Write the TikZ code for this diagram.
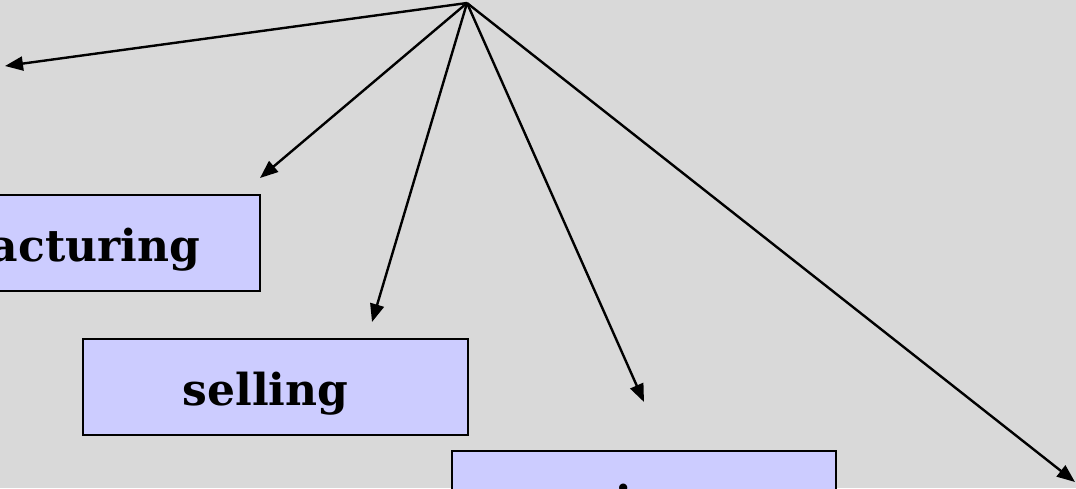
\documentclass[tikz,border=0pt]{standalone}
\usepackage{fontspec}
\setmainfont{DejaVu Serif}
\usetikzlibrary{arrows.meta, positioning}

\begin{document}
\begin{tikzpicture}[
  x=1pt, y=-1pt,
  stage/.style={rectangle, draw=black, line width=2.4pt, fill=boxblue,
    minimum height=96pt, inner sep=0pt, text height=40pt, text depth=4pt,
    font=\bfseries\fontsize{44}{50}\selectfont},
  feed/.style={line width=2.4pt, -{Triangle[length=18pt,width=14pt]}}]

  \definecolor{boxblue}{RGB}{204,204,255}
  \definecolor{slidegrey}{RGB}{217,217,217}

  % slide background and crop
  \fill[slidegrey] (0,0) rectangle (1076,488);
  \clip (0,0) rectangle (1076,488);

  % boxes
  \node[stage, minimum width=488pt] (make) at (16,243) {manufacturing};
  \node[stage, minimum width=385pt] (sell) at (275.5,387) {selling\hspace*{20pt}};
  \node[stage, minimum width=384pt] (use) at (644,499) {using\hspace*{34pt}};

  % arrows out of the top point
  \coordinate (hub) at (467,3);
  \coordinate (t1) at (5,66);
  \coordinate (t2) at (260,178);
  \coordinate (t3) at (372,322);
  \coordinate (t4) at (644,402);
  \coordinate (t5) at (1075,482);
  \foreach \t in {t1,t2,t3,t4,t5}
    \draw[feed] (hub) -- (\t);
\end{tikzpicture}
\end{document}
